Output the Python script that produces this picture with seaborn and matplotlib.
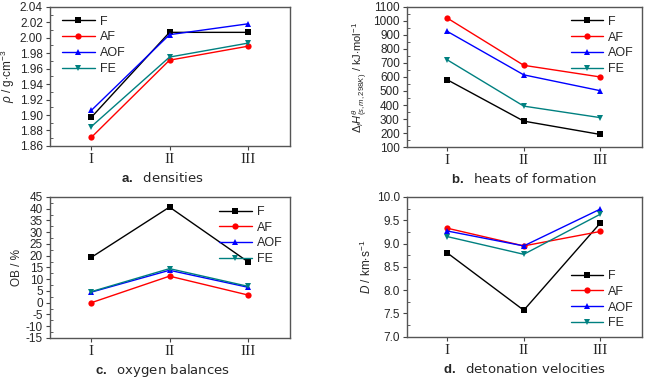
import numpy as np
import pandas as pd
import matplotlib
matplotlib.use("Agg")
import matplotlib.pyplot as plt
from matplotlib import font_manager
from matplotlib.ticker import AutoMinorLocator
import seaborn as sns

# ================================
# data
# ================================
compounds = ["I", "II", "III"]
series = ["F", "AF", "AOF", "FE"]

density_F = [1.897, 2.007, 2.007]
density_AF = [1.871, 1.971, 1.989]
density_AOF = [1.906, 2.004, 2.018]
density_FE = [1.885, 1.975, 1.993]

hof_F = [580, 285, 190]
hof_AF = [1020, 683, 600]
hof_AOF = [925, 615, 502]
hof_FE = [722, 392, 310]

ob_F = [19.3, 40.7, 17.5]
ob_AF = [0.0, 11.3, 3.3]
ob_AOF = [4.5, 13.8, 6.6]
ob_FE = [4.7, 14.5, 7.0]

det_F = [8.80, 7.57, 9.44]
det_AF = [9.33, 8.95, 9.26]
det_AOF = [9.27, 8.95, 9.74]
det_FE = [9.15, 8.77, 9.63]

colors = {"F": "#000000", "AF": "#ff0000", "AOF": "#0000ff", "FE": "#008080"}
markers = {"F": "s", "AF": "o", "AOF": "^", "FE": "v"}


def long_frame(vals):
    rows = []
    for name, v in zip(series, vals):
        for i, y in enumerate(v):
            rows.append({"x": i + 1, "y": y, "series": name})
    return pd.DataFrame(rows)


installed = {f.name for f in font_manager.fontManager.ttflist}
sans = "Liberation Sans Narrow" if "Liberation Sans Narrow" in installed else "Liberation Sans"

sns.set_style("ticks")
plt.rcParams["font.family"] = [sans, "DejaVu Sans"]
plt.rcParams["mathtext.fontset"] = "custom"
plt.rcParams["mathtext.rm"] = sans
plt.rcParams["mathtext.it"] = sans + ":italic"
plt.rcParams["mathtext.bf"] = sans + ":bold"

fig = plt.figure(figsize=(6.56, 3.81), dpi=100)

panels = [
    ([density_F, density_AF, density_AOF, density_FE],
     [0.076, 0.617, 0.366, 0.365], (1.86, 2.04), np.arange(1.86, 2.041, 0.02), "%.2f",
     r"$\rho$ / g$\cdot$cm$^{-3}$", "a.", "densities", 0.47,
     dict(loc="upper left", bbox_to_anchor=(0.02, 0.99))),
    ([hof_F, hof_AF, hof_AOF, hof_FE],
     [0.620, 0.614, 0.358, 0.368], (100, 1100), np.arange(100, 1101, 100), "%d",
     r"$\Delta_fH^{\theta}_{(s,m,298K)}$ / kJ$\cdot$mol$^{-1}$", "b.", "heats of formation", 0.5,
     dict(loc="upper right", bbox_to_anchor=(1.0, 0.99))),
    ([ob_F, ob_AF, ob_AOF, ob_FE],
     [0.076, 0.113, 0.366, 0.370], (-15, 45), np.arange(-15, 46, 5), "%d",
     "OB / %", "c.", "oxygen balances", 0.47,
     dict(loc="upper right", bbox_to_anchor=(1.0, 0.99))),
    ([det_F, det_AF, det_AOF, det_FE],
     [0.620, 0.116, 0.358, 0.367], (7.0, 10.0), np.arange(7.0, 10.01, 0.5), "%.1f",
     r"$D$ / km$\cdot$s$^{-1}$", "d.", "detonation velocities", 0.5,
     dict(loc="lower right", bbox_to_anchor=(1.0, 0.0))),
]

for vals, rect, ylim, yticks, fmt, ylabel, tag, caption, cx, legkw in panels:
    ax = fig.add_axes(rect)
    df = long_frame(vals)
    sns.lineplot(data=df, x="x", y="y", hue="series", style="series",
                 palette=colors, markers=markers, dashes=False,
                 linewidth=1.0, markersize=4.5, markeredgewidth=0, ax=ax)
    ax.set_xlim(0.47, 3.54)
    ax.set_xticks([1, 2, 3])
    ax.set_xticklabels(compounds, family="Liberation Serif", fontsize=11)
    ax.set_ylim(*ylim)
    ax.set_yticks(yticks)
    ax.set_yticklabels([fmt % t for t in yticks], fontsize=8.5)
    ax.yaxis.set_minor_locator(AutoMinorLocator(2))
    ax.tick_params(axis="y", which="minor", direction="in", length=2, color="#444444")
    ax.tick_params(axis="both", which="major", length=3, width=0.8, color="#444444", pad=2)
    ax.set_xlabel("")
    ax.set_ylabel(ylabel, fontsize=8 if tag == "b." else 8.5, labelpad=2)
    for sp in ax.spines.values():
        sp.set_visible(True)
        sp.set_color("#555555")
        sp.set_linewidth(1.0)
    ax.legend(frameon=False, fontsize=9, handlelength=2.6, handletextpad=0.4,
              labelspacing=0.3, borderaxespad=0.2, **legkw)
    ax.text(cx, -0.23, r"$\mathbf{" + tag + "}$  " + caption, transform=ax.transAxes,
            ha="center", va="center", fontsize=9.5, family="DejaVu Sans")

fig.savefig("out.png", dpi=100)
